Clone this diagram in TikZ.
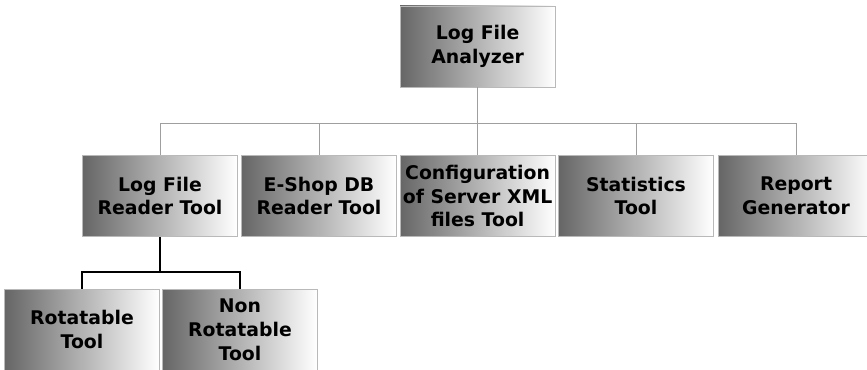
\documentclass[tikz,border=0pt]{standalone}
\usepackage{fontspec}
\setmainfont{DejaVu Sans}
\usetikzlibrary{positioning, calc}

\begin{document}
\begin{tikzpicture}[
    tool/.style={draw=gray!55, line width=0.6pt, left color=black!60, right color=white,
        minimum width=3.875cm, minimum height=2.025cm, align=center, inner sep=1pt,
        font=\fontsize{13.4}{17}\selectfont\bfseries},
    link/.style={draw=gray!75, line width=0.7pt},
    sublink/.style={draw=black, line width=1.4pt},
]
\clip (0,0) rectangle (21.675,-9.25);

% root
\node[tool] (analyzer) at (11.94, -1.1625) {Log File\\Analyzer};

% second level
\node[tool] (logreader) at (4.0, -4.9) {Log File\\Reader Tool};
\node[tool] (dbreader) at (7.975, -4.9) {E-Shop DB\\Reader Tool};
\node[tool] (xmlconf) at (11.94, -4.9) {Configuration\\of Server XML\\files Tool};
\node[tool] (stats) at (15.9, -4.9) {Statistics\\Tool};
\node[tool] (report) at (19.9, -4.9) {Report\\Generator};

% third level
\node[tool] (rot) at (2.05, -8.24) {Rotatable\\Tool};
\node[tool] (nonrot) at (6.0, -8.24) {Non\\Rotatable\\Tool};

\coordinate (bus) at (11.94, -3.075);
\draw[link] (analyzer.south) -- (bus);
\foreach \n in {logreader, dbreader, xmlconf, stats, report}
    \draw[link] (bus) -| (\n.north);

\coordinate (subbus) at (4.0, -6.8);
\draw[sublink] (logreader.south) -- (subbus);
\draw[sublink] (subbus) -| (rot.north);
\draw[sublink] (subbus) -| (nonrot.north);

\end{tikzpicture}
\end{document}
